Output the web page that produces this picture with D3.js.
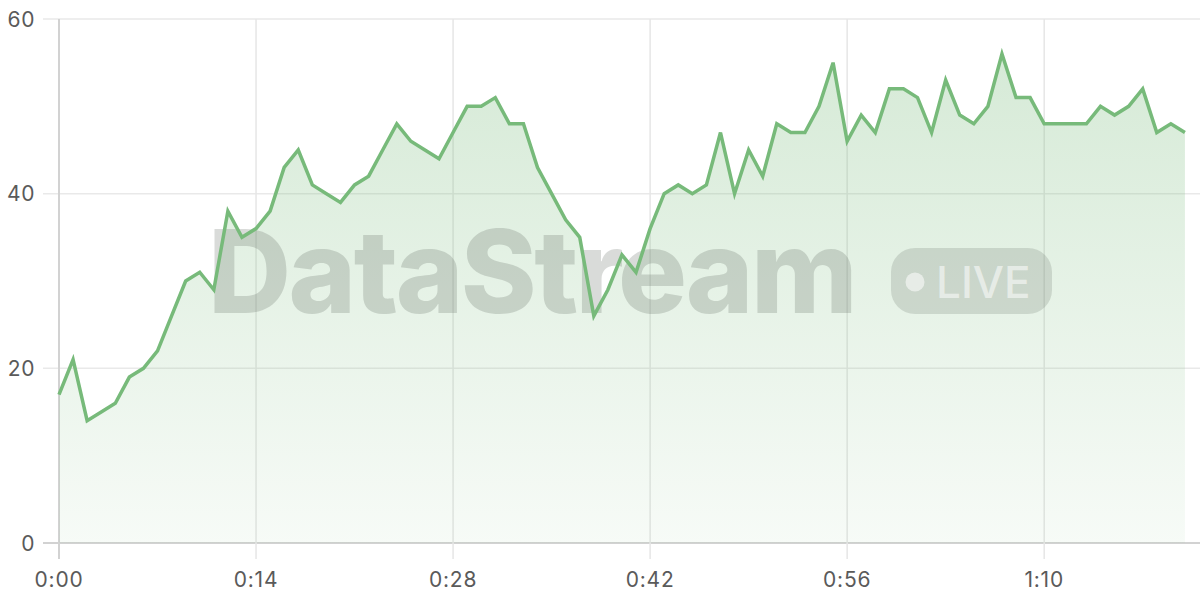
<!DOCTYPE html>
<html>
<head>
<meta charset="utf-8">
<script src="https://cdn.jsdelivr.net/npm/d3@7/dist/d3.min.js"></script>
<style>
html,body{margin:0;padding:0;background:#fff;}
svg{display:block;}
</style>
</head>
<body>
<svg id="chart" width="1200" height="600"></svg>
<script>
// ---- data ----
const seconds = d3.range(0, 81);
const values = [17,21,14,15,16,19,20,22,26,30,31,29,38,35,36,38,43,45,41,40,
                39,41,42,45,48,46,45,44,47,50,50,51,48,48,43,40,37,35,26,29,
                33,31,36,40,41,40,41,47,40,45,42,48,47,47,50,55,46,49,47,52,
                52,51,47,53,49,48,50,56,51,51,48,48,48,48,50,49,50,52,47,48,47];
const xTicks = [0,14,28,42,56,70];
const xTickLabels = ["0:00","0:14","0:28","0:42","0:56","1:10"];
const yTicks = [0,20,40,60];
const watermarkText = "DataStream";
const badgeText = "LIVE";

const data = seconds.map((s,i)=>({t:s, v:values[i]}));

const svg = d3.select("#chart");
const W = 1200, H = 600;
const mLeft = 59, mTop = 19, mBottom = 543;

const x = d3.scaleLinear().domain([0,81]).range([mLeft, 1199]);
const y = d3.scaleLinear().domain([0,60]).range([mBottom, mTop]);

const green = "#77ba7a";
const defs = svg.append("defs");
const grad = defs.append("linearGradient").attr("id","fillGrad")
  .attr("gradientUnits","userSpaceOnUse").attr("x1",0).attr("x2",0).attr("y1",y(60)).attr("y2",y(0));
grad.append("stop").attr("offset","0%").attr("stop-color",green).attr("stop-opacity",0.32);
grad.append("stop").attr("offset","100%").attr("stop-color",green).attr("stop-opacity",0.06);

// horizontal grid
const gy = svg.append("g");
gy.selectAll("line").data(yTicks).join("line")
  .attr("x1", 43).attr("x2", W)
  .attr("y1", d=>y(d)).attr("y2", d=>y(d))
  .attr("stroke", d=> d===0 ? "#d2d2d2" : "#e9e9e9").attr("stroke-width", d=> d===0?2:1.5);
gy.selectAll("text").data(yTicks).join("text")
  .attr("x", 35).attr("y", d=>y(d)).attr("dy","0.36em")
  .attr("text-anchor","end").attr("letter-spacing",0.6)
  .attr("font-family","Inter, 'Open Sans', sans-serif").attr("font-size",21)
  .attr("fill","#5a5a5a").text(d=>d);

// vertical grid
const gx = svg.append("g");
gx.selectAll("line").data(xTicks).join("line")
  .attr("x1", d=>x(d)).attr("x2", d=>x(d))
  .attr("y1", mTop).attr("y2", 559)
  .attr("stroke", d=> d===0 ? "#d2d2d2" : "#e6e6e6").attr("stroke-width", d=> d===0?2:1.5);
gx.selectAll("text").data(xTicks).join("text")
  .attr("x", d=>x(d)).attr("y", 587)
  .attr("text-anchor","middle").attr("letter-spacing",0.8)
  .attr("font-family","Inter, 'Open Sans', sans-serif").attr("font-size",21)
  .attr("fill","#5a5a5a").text((d,i)=>xTickLabels[i]);

// area
const area = d3.area().x(d=>x(d.t)).y0(y(0)).y1(d=>y(d.v));
const line = d3.line().x(d=>x(d.t)).y(d=>y(d.v));
svg.append("path").datum(data).attr("d",area).attr("fill","url(#fillGrad)");

// watermark
const wm = svg.append("g");
const wt = wm.append("text").attr("x",208).attr("y",313)
  .attr("font-family","Inter, sans-serif").attr("font-weight",800)
  .attr("font-size",115).attr("letter-spacing",-3)
  .attr("fill","rgb(95,105,95)").attr("fill-opacity",0.24).text(watermarkText);
const tw = wt.node().getComputedTextLength();
if (tw > 0) {
  const targetW = 647;
  const ls = -3 + (targetW - tw) / (watermarkText.length);
  wt.attr("letter-spacing", ls);
}
wm.append("rect").attr("x",891).attr("y",248).attr("width",161).attr("height",66)
  .attr("rx",24).attr("fill","rgb(95,105,95)").attr("fill-opacity",0.2);
wm.append("circle").attr("cx",915).attr("cy",282).attr("r",9.5)
  .attr("fill","#ffffff").attr("fill-opacity",0.55);
wm.append("text").attr("x",936).attr("y",298)
  .attr("font-family","Inter, sans-serif").attr("font-weight",500)
  .attr("font-size",44).attr("fill","#ffffff").attr("fill-opacity",0.55).text(badgeText);

// line on top
svg.append("path").datum(data).attr("d",line).attr("fill","none")
  .attr("stroke",green).attr("stroke-width",3.5).attr("stroke-linejoin","miter");
</script>
</body>
</html>
